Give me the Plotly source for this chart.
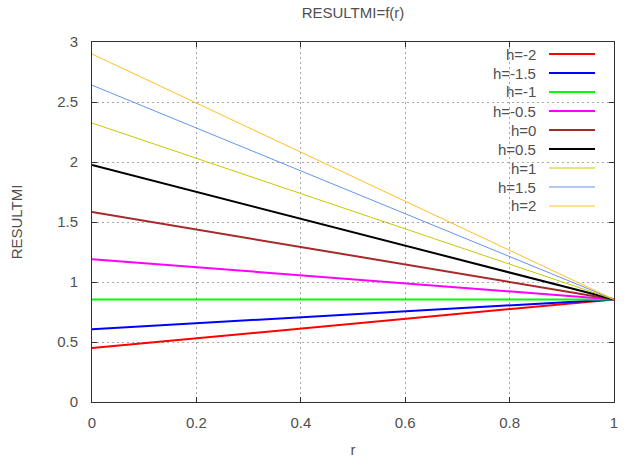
import plotly.graph_objects as go

labels = ["h=-2", "h=-1.5", "h=-1", "h=-0.5", "h=0", "h=0.5", "h=1", "h=1.5", "h=2"]
r_vals = [0.0, 1.0]
start_vals = [0.45, 0.607, 0.855, 1.19, 1.583, 1.975, 2.325, 2.64, 2.9]
end_vals = [0.855, 0.855, 0.855, 0.855, 0.855, 0.855, 0.855, 0.855, 0.855]
colors = ["#ff0000", "#0000ff", "#00ff00", "#ff00ff", "#a52a2a", "#000000",
          "#c8c800", "#6495ed", "#ffc020"]
widths = [2, 2, 2, 2, 2, 2, 1, 1, 1]

fig = go.Figure()
for lab, s, e, c, w in zip(labels, start_vals, end_vals, colors, widths):
    fig.add_trace(go.Scatter(x=r_vals, y=[s, e], mode="lines", name=lab,
                             line=dict(color=c, width=w), showlegend=False))

font_col = "#505050"
FS = 15
axis_common = dict(
    showline=True, linecolor="#303030", linewidth=1, mirror="ticks",
    ticks="inside", ticklen=5, tickcolor="#303030",
    showgrid=True, gridcolor="#a8a8a8", griddash="2px,3px", gridwidth=1,
    zeroline=False, tickfont=dict(size=FS, color=font_col),
    automargin=False, layer="below traces",
)
fig.update_xaxes(range=[0, 1], dtick=0.2, tickformat="~g", ticklabelstandoff=7,
                 title=dict(text="r", font=dict(size=FS, color=font_col), standoff=14),
                 **axis_common)
fig.update_yaxes(range=[0, 3], dtick=0.5, tickformat="~g", ticklabelstandoff=10,
                 title=dict(text="RESULTMI", font=dict(size=FS, color=font_col), standoff=30),
                 **axis_common)

# gnuplot-style key: text right-aligned, sample line to the right
W, H = 629, 465
ml, mr, mt, mb = 92, 15, 42, 63
pw, ph = W - ml - mr, H - mt - mb
def px(x):
    return (x - ml) / pw
def py(y):
    return 1 - (y - mt) / ph

anns = []
shapes = []
for i, (lab, c, w) in enumerate(zip(labels, colors, widths)):
    yy = 54 + 19 * i
    anns.append(dict(x=px(538), y=py(yy), xref="paper", yref="paper", text=lab,
                     showarrow=False, xanchor="right", yanchor="middle",
                     font=dict(size=FS, color=font_col)))
    shapes.append(dict(type="line", xref="paper", yref="paper",
                       x0=px(549), x1=px(595), y0=py(yy), y1=py(yy),
                       line=dict(color=c, width=w)))

fig.update_layout(
    width=W, height=H,
    margin=dict(l=ml, r=mr, t=mt, b=mb, autoexpand=False),
    paper_bgcolor="white", plot_bgcolor="white",
    font=dict(family="Liberation Sans, Arial, sans-serif", size=FS, color=font_col),
    title=dict(text="RESULTMI=f(r)", xref="paper", x=0.5, xanchor="center",
               y=1 - 13 / H, yanchor="middle",
               font=dict(size=FS, color=font_col), automargin=False),
    annotations=anns, shapes=shapes,
)

fig.write_html("out.html", config={"displayModeBar": False},
               post_script="document.body.style.margin='0';document.body.style.overflow='hidden';")
